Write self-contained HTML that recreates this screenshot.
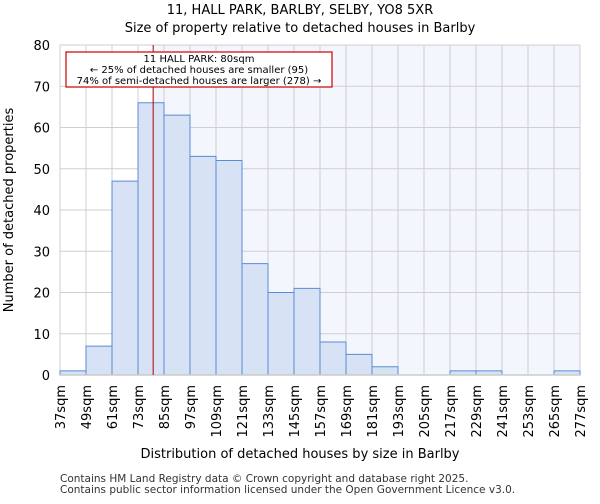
<!DOCTYPE html>
<html><head><meta charset="utf-8"><style>
body{margin:0;background:#fff;font-family:"DejaVu Sans","Liberation Sans",sans-serif}
text{font-family:"DejaVu Sans","Liberation Sans",sans-serif}
</style></head><body>
<svg id="c" width="600" height="500">
<text x="300" y="14" text-anchor="middle" font-size="13">11, HALL PARK, BARLBY, SELBY, YO8 5XR</text>
<text x="300" y="32" text-anchor="middle" font-size="13">Size of property relative to detached houses in Barlby</text>
<g id="plot"></g>
<text x="300" y="458" text-anchor="middle" font-size="13">Distribution of detached houses by size in Barlby</text>
<text transform="translate(13,210) rotate(-90)" text-anchor="middle" font-size="13">Number of detached properties</text>
<text x="60" y="482" font-size="10.5" fill="#333">Contains HM Land Registry data © Crown copyright and database right 2025.</text>
<text x="60" y="493" font-size="10.5" fill="#333">Contains public sector information licensed under the Open Government Licence v3.0.</text>
</svg>
<script>
const binStarts=[37,49,61,73,85,97,109,121,133,145,157,169,181,193,205,217,229,241,253,265,277];
const counts=[1,7,47,66,63,53,52,27,20,21,8,5,2,0,0,1,1,0,0,1];
const yTicks=[0,10,20,30,40,50,60,70,80];
const subjectSize=80;
const L=60,R=580,T=45,B=375,xmin=37,xmax=277,ymax=80;
const sx=v=>L+(v-xmin)/(xmax-xmin)*(R-L);
const sy=v=>B-v/ymax*(B-T);
const NS="http://www.w3.org/2000/svg";
const g=document.getElementById('plot');
function mk(t,a){const e=document.createElementNS(NS,t);for(const k in a)e.setAttribute(k,a[k]);g.appendChild(e);return e;}
const bg=mk('rect',{x:sx(subjectSize),y:T,width:R-sx(subjectSize),height:B-T,fill:'#f3f6fd'});


yTicks.forEach(t=>{
 const l=mk('line',{x1:L,x2:R,y1:sy(t),y2:sy(t),stroke:'#cfcfcf'});
 
 
 const tx=mk('text',{x:L-10,y:sy(t)+5,'text-anchor':'end','font-size':13});
 tx.textContent=t;
 
 
});
binStarts.forEach(b=>{
 const l=mk('line',{x1:sx(b),x2:sx(b),y1:T,y2:B,stroke:'#cfcfcf'});
 
 
 const tx=mk('text',{transform:`translate(${sx(b)+5},${B+10}) rotate(-90)`,'text-anchor':'end','font-size':13});
 tx.textContent=b+'sqm';
 
 
});
counts.forEach((c,i)=>{
 if(c<=0)return;
 const r=mk('rect',{x:sx(binStarts[i]),y:sy(c),width:sx(binStarts[i+1])-sx(binStarts[i]),height:B-sy(c),fill:'#d7e2f4',stroke:'#5b8ad6','stroke-width':1});
 
 
});
const ax=mk('line',{x1:L,x2:R,y1:B,y2:B,stroke:'#ccc','stroke-width':1.5});


const ml=mk('line',{x1:sx(subjectSize),x2:sx(subjectSize),y1:T,y2:B,stroke:'#b00000','stroke-width':1});


const box=mk('rect',{x:66,y:52,width:266,height:35,fill:'#fff',stroke:'#cc0000','stroke-width':1.2});


['11 HALL PARK: 80sqm','← 25% of detached houses are smaller (95)','74% of semi-detached houses are larger (278) →'].forEach((s,i)=>{
 const t=mk('text',{x:199,y:62+i*11,'text-anchor':'middle','font-size':10});
 t.textContent=s;
 
 
});
</script>
</body></html>
